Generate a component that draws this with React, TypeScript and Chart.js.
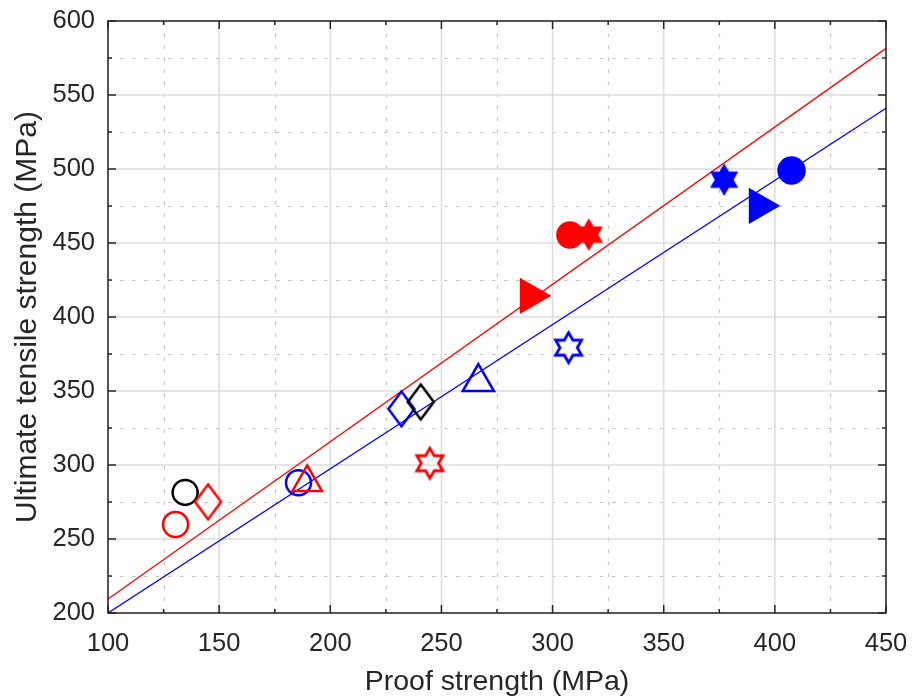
import React, { useEffect, useRef } from 'react';
import { Chart, registerables } from 'chart.js';

Chart.register(...registerables);

// ---- axis ticks ----
const xTicks = [100, 150, 200, 250, 300, 350, 400, 450];
const yTicks = [200, 250, 300, 350, 400, 450, 500, 550, 600];
const xMinorTicks = [125, 175, 225, 275, 325, 375, 425];
const yMinorTicks = [225, 275, 325, 375, 425, 475, 525, 575];

// ---- fitted lines ----
const fitX = [100, 450];
const redFitY = [209.5, 581.5];
const blueFitY = [200, 541];

// ---- measured points: [proof strength, UTS] ----
const redOpenCircle = [[130.4, 259.8]];
const blackOpenCircle = [[134.7, 281.5]];
const blueOpenCircle = [[185.7, 288.0]];
const redOpenDiamond = [[145.0, 275.1]];
const blueOpenDiamond = [[232.0, 337.9]];
const blackOpenDiamond = [[240.7, 342.6]];
const redOpenTriangle = [[189.6, 288.2]];
const blueOpenTriangle = [[266.6, 356.0]];
const redOpenHexagram = [[244.8, 301.2]];
const blueOpenHexagram = [[307.2, 379.3]];
const redFilledTriangleRight = [[290.0, 414.3]];
const blueFilledTriangleRight = [[393.0, 475.1]];
const redFilledCircle = [[307.8, 455.4]];
const blueFilledCircle = [[407.5, 499.0]];
const redFilledHexagram = [[316.3, 455.7]];
const blueFilledHexagram = [[377.2, 492.8]];

const RED = '#ff0000';
const BLUE = '#0000ff';
const BLACK = '#000000';
const AXIS = '#262626';
const FONT = "'Liberation Sans', Arial, Helvetica, sans-serif";

const pts = (arr: number[][]) => arr.map(([x, y]) => ({ x, y }));

function makeHexagram(R: number, color: string, filled: boolean, lw: number) {
  const size = Math.ceil(2 * R + lw + 4);
  const c = document.createElement('canvas');
  c.width = size;
  c.height = size;
  const ctx = c.getContext('2d')!;
  const cx = size / 2;
  const cy = size / 2;
  const r = R / Math.sqrt(3);
  ctx.beginPath();
  for (let k = 0; k < 12; k++) {
    const ang = -Math.PI / 2 + (k * Math.PI) / 6;
    const rad = k % 2 === 0 ? R : r;
    const px = cx + rad * Math.cos(ang);
    const py = cy + rad * Math.sin(ang);
    if (k === 0) ctx.moveTo(px, py);
    else ctx.lineTo(px, py);
  }
  ctx.closePath();
  ctx.lineJoin = 'miter';
  if (filled) {
    ctx.fillStyle = color;
    ctx.fill();
  }
  ctx.strokeStyle = color;
  ctx.lineWidth = lw;
  ctx.stroke();
  return c;
}

function makeDiamond(hw: number, hh: number, color: string, lw: number) {
  const w = Math.ceil(2 * hw + lw + 6);
  const h = Math.ceil(2 * hh + lw + 6);
  const c = document.createElement('canvas');
  c.width = w;
  c.height = h;
  const ctx = c.getContext('2d')!;
  const cx = w / 2;
  const cy = h / 2;
  ctx.beginPath();
  ctx.moveTo(cx, cy - hh);
  ctx.lineTo(cx + hw, cy);
  ctx.lineTo(cx, cy + hh);
  ctx.lineTo(cx - hw, cy);
  ctx.closePath();
  ctx.strokeStyle = color;
  ctx.lineWidth = lw;
  ctx.lineJoin = 'miter';
  ctx.stroke();
  return c;
}

const frame = {
  id: 'matlabFrame',
  beforeDatasetsDraw(chart: any) {
    const { ctx, chartArea: a, scales } = chart;
    const xs = scales.x;
    const ys = scales.y;
    ctx.save();
    // minor grid (dotted)
    ctx.strokeStyle = '#c4c4c4';
    ctx.lineWidth = 1.2;
    ctx.setLineDash([3.5, 8.5]);
    xMinorTicks.forEach((v) => {
      const px = Math.round(xs.getPixelForValue(v)) + 0.5;
      ctx.beginPath();
      ctx.moveTo(px, a.bottom);
      ctx.lineTo(px, a.top);
      ctx.stroke();
    });
    yMinorTicks.forEach((v) => {
      const py = Math.round(ys.getPixelForValue(v)) + 0.5;
      ctx.beginPath();
      ctx.moveTo(a.left, py);
      ctx.lineTo(a.right, py);
      ctx.stroke();
    });
    // major grid
    ctx.setLineDash([]);
    ctx.strokeStyle = '#dedede';
    ctx.lineWidth = 1.6;
    xTicks.forEach((v) => {
      const px = xs.getPixelForValue(v);
      ctx.beginPath();
      ctx.moveTo(px, a.bottom);
      ctx.lineTo(px, a.top);
      ctx.stroke();
    });
    yTicks.forEach((v) => {
      const py = ys.getPixelForValue(v);
      ctx.beginPath();
      ctx.moveTo(a.left, py);
      ctx.lineTo(a.right, py);
      ctx.stroke();
    });
    ctx.restore();
  },
  afterDatasetsDraw(chart: any) {
    const { ctx, chartArea: a, scales } = chart;
    const xs = scales.x;
    const ys = scales.y;
    ctx.save();
    ctx.strokeStyle = AXIS;
    ctx.lineWidth = 1.5;
    const tick = (x1: number, y1: number, x2: number, y2: number) => {
      ctx.beginPath();
      ctx.moveTo(x1, y1);
      ctx.lineTo(x2, y2);
      ctx.stroke();
    };
    const major = 8;
    const minor = 4;
    xTicks.forEach((v) => {
      const px = xs.getPixelForValue(v);
      tick(px, a.bottom, px, a.bottom - major);
      tick(px, a.top, px, a.top + major);
    });
    xMinorTicks.forEach((v) => {
      const px = xs.getPixelForValue(v);
      tick(px, a.bottom, px, a.bottom - minor);
      tick(px, a.top, px, a.top + minor);
    });
    yTicks.forEach((v) => {
      const py = ys.getPixelForValue(v);
      tick(a.left, py, a.left + major, py);
      tick(a.right, py, a.right - major, py);
    });
    yMinorTicks.forEach((v) => {
      const py = ys.getPixelForValue(v);
      tick(a.left, py, a.left + minor, py);
      tick(a.right, py, a.right - minor, py);
    });
    ctx.strokeRect(a.left, a.top, a.right - a.left, a.bottom - a.top);
    ctx.restore();
  },
};

export default function App() {
  const ref = useRef<HTMLCanvasElement | null>(null);

  useEffect(() => {
    document.body.style.margin = '0';
    const canvas = ref.current;
    if (!canvas) return;

    const openPt = (color: string, style: any, radius: number, extra: any = {}) => ({
      pointStyle: style,
      pointRadius: radius,
      pointBorderWidth: 2.5,
      pointBorderColor: color,
      pointBackgroundColor: 'rgba(0,0,0,0)',
      showLine: false,
      ...extra,
    });
    const filledPt = (color: string, style: any, radius: number, extra: any = {}) => ({
      pointStyle: style,
      pointRadius: radius,
      pointBorderWidth: 1.5,
      pointBorderColor: color,
      pointBackgroundColor: color,
      showLine: false,
      ...extra,
    });

    const datasets: any[] = [
      { data: pts(redOpenTriangle), ...openPt(RED, 'triangle', 17) },
      { data: pts(blueOpenCircle), ...openPt(BLUE, 'circle', 12.5) },
      { data: pts(blackOpenDiamond), ...openPt(BLACK, makeDiamond(13, 17.5, BLACK, 2.5), 10) },
      { data: pts(blueOpenDiamond), ...openPt(BLUE, makeDiamond(13, 17.5, BLUE, 2.5), 10) },
      { data: pts(redOpenDiamond), ...openPt(RED, makeDiamond(13, 17.5, RED, 2.5), 10) },
      { data: pts(blackOpenCircle), ...openPt(BLACK, 'circle', 12.5) },
      { data: pts(redOpenCircle), ...openPt(RED, 'circle', 12.5) },
      { data: pts(blueOpenTriangle), ...openPt(BLUE, 'triangle', 18) },
      { data: pts(redOpenHexagram), ...openPt(RED, makeHexagram(15, RED, false, 2.8), 10) },
      { data: pts(blueOpenHexagram), ...openPt(BLUE, makeHexagram(15, BLUE, false, 2.8), 10) },
      { data: pts(redFilledHexagram), ...filledPt(RED, makeHexagram(15.5, RED, true, 1), 10) },
      { data: pts(redFilledCircle), ...filledPt(RED, 'circle', 13) },
      { data: pts(redFilledTriangleRight), ...filledPt(RED, 'triangle', 19.5, { pointRotation: 90 }) },
      { data: pts(blueFilledHexagram), ...filledPt(BLUE, makeHexagram(15.5, BLUE, true, 1), 10) },
      { data: pts(blueFilledCircle), ...filledPt(BLUE, 'circle', 13.5) },
      { data: pts(blueFilledTriangleRight), ...filledPt(BLUE, 'triangle', 19.5, { pointRotation: 90 }) },
      {
        data: fitX.map((x, i) => ({ x, y: redFitY[i] })),
        showLine: true,
        borderColor: RED,
        borderWidth: 1.3,
        pointRadius: 0,
        fill: false,
      },
      {
        data: fitX.map((x, i) => ({ x, y: blueFitY[i] })),
        showLine: true,
        borderColor: BLUE,
        borderWidth: 1.3,
        pointRadius: 0,
        fill: false,
      },
    ];

    const tickFont = { family: FONT, size: 25.5 };
    const xTitleFont = { family: FONT, size: 28.5, lineHeight: 1.2 };
    const yTitleFont = { family: FONT, size: 30, lineHeight: 1.2 };

    const chart = new Chart(canvas, {
      type: 'scatter',
      data: { datasets },
      plugins: [frame],
      options: {
        animation: false,
        responsive: false,
        devicePixelRatio: 1,
        layout: { padding: { left: 0, right: 27, top: 20, bottom: 0 } },
        plugins: { legend: { display: false }, tooltip: { enabled: false } },
        elements: { line: { tension: 0 } },
        scales: {
          x: {
            type: 'linear',
            min: 100,
            max: 450,
            afterBuildTicks: (s: any) => {
              s.ticks = xTicks.map((v) => ({ value: v }));
            },
            afterFit: (s: any) => {
              s.height = 86;
              s.paddingLeft = 0;
              s.paddingRight = 0;
            },
            grid: { display: false, drawTicks: false },
            border: { display: false },
            ticks: {
              font: tickFont,
              color: AXIS,
              padding: 16,
              maxRotation: 0,
              autoSkip: false,
              callback: (v: any) => String(v),
            },
            title: {
              display: true,
              text: 'Proof strength (MPa)',
              font: xTitleFont,
              color: AXIS,
              padding: { top: 0, bottom: 0 },
            },
          },
          y: {
            type: 'linear',
            min: 200,
            max: 600,
            afterBuildTicks: (s: any) => {
              s.ticks = yTicks.map((v) => ({ value: v }));
            },
            afterFit: (s: any) => {
              s.width = 108;
              s.paddingTop = 0;
              s.paddingBottom = 0;
            },
            grid: { display: false, drawTicks: false },
            border: { display: false },
            ticks: {
              font: tickFont,
              color: AXIS,
              padding: 13,
              autoSkip: false,
              callback: (v: any) => String(v),
            },
            title: {
              display: true,
              text: 'Ultimate tensile strength (MPa)',
              font: yTitleFont,
              color: AXIS,
              padding: { top: 10, bottom: 0 },
            },
          },
        },
      },
    });

    return () => chart.destroy();
  }, []);

  return (
    <canvas
      ref={ref}
      width={913}
      height={699}
      style={{ display: 'block', width: 913, height: 699 }}
    />
  );
}
